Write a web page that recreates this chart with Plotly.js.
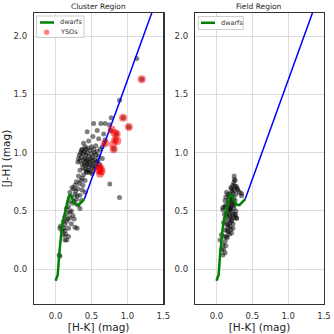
<!DOCTYPE html>
<html>
<head>
<meta charset="utf-8">
<script src="https://cdn.plot.ly/plotly-3.0.1.min.js"></script>
<style>
  html, body { margin: 0; padding: 0; background: #fff; }
  #chart { width: 334px; height: 334px; }
</style>
</head>
<body>
<div id="chart"></div>
<script>
// dwarf locus (shared by both panels)
const dwarfHK = [0.00, 0.03, 0.05, 0.065, 0.085, 0.10, 0.12, 0.155, 0.18, 0.20, 0.22, 0.25, 0.28, 0.32, 0.36, 0.40];
const dwarfJH = [-0.10, -0.05, 0.12, 0.25, 0.34, 0.40, 0.45, 0.56, 0.62, 0.64, 0.63, 0.58, 0.555, 0.55, 0.58, 0.60];

// reddening vector from the end of the locus
const redHK = [0.40, 1.45];
const redJH = [0.60, 2.39];

// cluster region sources
const clusterHK = [
  1.13, 0.89, 0.775, 0.53, 0.63, 0.69, 0.75, 0.77, 0.44, 0.58, 0.67, 0.52, 0.60, 0.69, 0.46, 0.39, 0.56, 0.65, 0.37, 0.41, 0.53, 0.62, 0.68, 0.32, 0.65, 0.31,
  0.35, 0.38, 0.40, 0.42, 0.44, 0.46, 0.48, 0.50, 0.52, 0.54, 0.56, 0.58, 0.36, 0.39, 0.41, 0.43, 0.45, 0.47, 0.49, 0.51, 0.53, 0.55, 0.57, 0.34, 0.37, 0.40,
  0.42, 0.44, 0.46, 0.48, 0.50, 0.52, 0.54, 0.38, 0.41, 0.43, 0.45, 0.47, 0.49, 0.60, 0.59, 0.36, 0.45, 0.50, 0.42, 0.33, 0.61, 0.56,
  0.34, 0.39, 0.43, 0.51, 0.37, 0.41, 0.33, 0.38, 0.27, 0.25, 0.31, 0.37, 0.41, 0.20, 0.27, 0.34, 0.22, 0.29, 0.36, 0.19, 0.24, 0.31,
  0.34, 0.18, 0.20, 0.16, 0.24, 0.13, 0.20, 0.155, 0.22, 0.13, 0.11, 0.18, 0.27, 0.13, 0.11, 0.18, 0.13, 0.755, 0.89, 0.06, 0.07, 0.05,
  0.06, 0.155, 0.30, 0.11, 0.29, 0.32, 0.28, 0.23, 0.35, 0.30, 0.26, 0.15, 0.22, 0.17, 0.26, 0.14, 0.09,
  1.20, 0.94, 1.02, 0.81, 0.83, 0.85, 0.61, 0.63, 0.62
];
const clusterJH = [
  1.81, 1.45, 1.30, 1.25, 1.25, 1.25, 1.24, 1.19, 1.18, 1.19, 1.16, 1.14, 1.12, 1.11, 1.10, 1.08, 1.06, 1.05, 1.03, 1.05, 1.03, 1.03, 1.08, 0.95, 0.95, 0.92,
  1.00, 0.99, 1.01, 0.98, 1.00, 0.97, 1.02, 0.99, 0.96, 1.00, 0.98, 1.01, 0.96, 0.94, 0.95, 0.93, 0.94, 0.92, 0.95, 0.93, 0.91, 0.94, 0.92, 0.93, 0.90, 0.91,
  0.89, 0.90, 0.88, 0.90, 0.87, 0.89, 0.86, 0.87, 0.86, 0.84, 0.85, 0.83, 0.84, 0.97, 0.93, 1.02, 1.04, 1.05, 1.03, 0.98, 0.90, 0.88,
  0.85, 0.81, 0.83, 0.82, 0.78, 0.76, 0.735, 0.72, 0.72, 0.69, 0.69, 0.68, 0.66, 0.66, 0.64, 0.635, 0.62, 0.60, 0.59, 0.58, 0.565, 0.55,
  0.52, 0.535, 0.49, 0.48, 0.46, 0.45, 0.44, 0.41, 0.39, 0.38, 0.35, 0.35, 0.36, 0.33, 0.29, 0.28, 0.25, 0.73, 0.615, 0.35, 0.37, 0.12,
  0.11, 0.25, 0.35, 0.41, 0.75, 0.80, 0.67, 0.70, 0.76, 0.63, 0.58, 0.52, 0.50, 0.43, 0.43, 0.30, 0.33,
  1.63, 1.30, 1.22, 1.03, 1.11, 1.16, 0.88, 0.86, 0.83
];

// young stellar objects in the cluster region
const ysoHK = [1.20, 0.94, 1.02, 0.78, 0.82, 0.85, 0.83, 0.86, 0.81, 0.80, 0.69, 0.61, 0.63, 0.60, 0.64, 0.62];
const ysoJH = [1.63, 1.30, 1.22, 1.20, 1.17, 1.16, 1.11, 1.10, 1.03, 1.07, 1.08, 0.88, 0.86, 0.85, 0.84, 0.82];

// field region sources
const fieldHK = [
  0.247, 0.25, 0.26, 0.23, 0.26, 0.28, 0.21, 0.29, 0.30, 0.32, 0.35, 0.35, 0.14, 0.19, 0.23, 0.21, 0.165, 0.12, 0.21, 0.26, 0.17, 0.23, 0.09, 0.12,
  0.19, 0.19, 0.09, 0.21, 0.14, 0.26, 0.26, 0.14, 0.19, 0.12, 0.28, 0.28, 0.21, 0.21, 0.14, 0.16, 0.19, 0.23, 0.12, 0.165, 0.21, 0.07, 0.14, 0.05,
  0.12, 0.09, 0.07, 0.12, 0.09,
  0.18, 0.20, 0.22, 0.18, 0.20, 0.24, 0.17, 0.22, 0.18, 0.24, 0.17, 0.19, 0.23, 0.16, 0.20, 0.18, 0.15, 0.22, 0.25, 0.27, 0.24, 0.16, 0.13,
  0.11, 0.10, 0.25, 0.27, 0.13, 0.20, 0.24, 0.15, 0.11, 0.13, 0.10
];
const fieldJH = [
  0.80, 0.77, 0.76, 0.72, 0.71, 0.71, 0.69, 0.69, 0.68, 0.66, 0.65, 0.63, 0.66, 0.65, 0.65, 0.62, 0.59, 0.59, 0.58, 0.59, 0.56, 0.55, 0.53, 0.535,
  0.52, 0.51, 0.51, 0.49, 0.48, 0.465, 0.47, 0.46, 0.45, 0.435, 0.435, 0.44, 0.43, 0.41, 0.39, 0.38, 0.365, 0.35, 0.335, 0.32, 0.31, 0.295, 0.28, 0.25,
  0.24, 0.21, 0.165, 0.14, 0.12,
  0.62, 0.60, 0.57, 0.54, 0.53, 0.52, 0.50, 0.47, 0.46, 0.44, 0.42, 0.40, 0.39, 0.36, 0.34, 0.30, 0.27, 0.67, 0.68, 0.64, 0.61, 0.64, 0.55,
  0.47, 0.40, 0.55, 0.50, 0.62, 0.70, 0.74, 0.33, 0.28, 0.20, 0.17
];

const font = "DejaVu Sans, sans-serif";
const grid = '#dcdcdc';

function axisX(anchor, domain) {
  return {
    anchor: anchor, domain: domain, range: [-0.3, 1.5],
    tickvals: [0, 0.5, 1, 1.5], ticktext: ['0.0', '0.5', '1.0', '1.5'],
    ticks: '', ticklabelstandoff: 4,
    showgrid: true, gridcolor: grid, zeroline: false,
    showline: true, mirror: true, linecolor: '#333', linewidth: 1.2,
    tickfont: { size: 8.5, color: '#333' },
    title: { text: '[H-K] (mag)', font: { size: 10.5, color: '#222' }, standoff: 3 }
  };
}
function axisY(anchor, title) {
  const ax = {
    anchor: anchor, domain: [0, 1], range: [-0.3, 2.2],
    tickvals: [0, 0.5, 1, 1.5, 2], ticktext: ['0.0', '0.5', '1.0', '1.5', '2.0'],
    ticks: '', ticklabelstandoff: 4,
    showgrid: true, gridcolor: grid, zeroline: false,
    showline: true, mirror: true, linecolor: '#333', linewidth: 1.2,
    tickfont: { size: 8.5, color: '#333' }
  };
  if (title) ax.title = { text: title, font: { size: 10.5, color: '#222' }, standoff: 4 };
  return ax;
}

const traces = [
  { x: clusterHK, y: clusterJH, xaxis: 'x', yaxis: 'y', type: 'scatter', mode: 'markers',
    marker: { color: 'black', size: 5, opacity: 0.5 }, hoverinfo: 'skip' },
  { x: redHK, y: redJH, xaxis: 'x', yaxis: 'y', type: 'scatter', mode: 'lines',
    line: { color: 'blue', width: 1.5 } },
  { x: dwarfHK, y: dwarfJH, xaxis: 'x', yaxis: 'y', type: 'scatter', mode: 'lines', name: 'dwarfs',
    line: { color: 'green', width: 2.5 } },
  { x: ysoHK, y: ysoJH, xaxis: 'x', yaxis: 'y', type: 'scatter', mode: 'markers', name: 'YSOs',
    marker: { color: 'red', size: 8, opacity: 0.5 } },

  { x: fieldHK, y: fieldJH, xaxis: 'x2', yaxis: 'y2', type: 'scatter', mode: 'markers',
    marker: { color: 'black', size: 5, opacity: 0.5 }, hoverinfo: 'skip' },
  { x: redHK, y: redJH, xaxis: 'x2', yaxis: 'y2', type: 'scatter', mode: 'lines',
    line: { color: 'blue', width: 1.5 } },
  { x: dwarfHK, y: dwarfJH, xaxis: 'x2', yaxis: 'y2', type: 'scatter', mode: 'lines', name: 'dwarfs',
    line: { color: 'green', width: 2.5 } }
];

// small matplotlib-style legend boxes (plotly's own legend rows are too tall here)
const legendFont = { family: font, size: 6.5, color: '#333' };
const shapes = [
  { type: 'rect', xref: 'paper', yref: 'paper', x0: 0.0086, x1: 0.1724, y0: 0.9158, y1: 0.9897,
    fillcolor: 'rgba(255,255,255,0.85)', line: { color: '#cccccc', width: 1 }, layer: 'above' },
  { type: 'line', xref: 'paper', yref: 'paper', x0: 0.0207, x1: 0.069, y0: 0.9674, y1: 0.9674,
    line: { color: 'green', width: 2.5 }, layer: 'above' },
  { type: 'circle', xref: 'paper', yref: 'paper', x0: 0.0345, x1: 0.0531, y0: 0.9244, y1: 0.943,
    fillcolor: 'rgba(255,0,0,0.5)', line: { width: 0 }, layer: 'above' },
  { type: 'rect', xref: 'paper', yref: 'paper', x0: 0.5666, x1: 0.7217, y0: 0.9433, y1: 0.9880,
    fillcolor: 'rgba(255,255,255,0.85)', line: { color: '#cccccc', width: 1 }, layer: 'above' },
  { type: 'line', xref: 'paper', yref: 'paper', x0: 0.5759, x1: 0.6241, y0: 0.9663, y1: 0.9663,
    line: { color: 'green', width: 2.5 }, layer: 'above' }
];

const layout = {
  width: 334, height: 334,
  margin: { l: 34, r: 10, t: 13, b: 30 },
  paper_bgcolor: 'white', plot_bgcolor: 'white',
  font: { family: font, color: '#333' },
  showlegend: false,
  xaxis: axisX('y', [0, 0.446]),
  yaxis: axisY('x', '[J-H] (mag)'),
  xaxis2: axisX('y2', [0.555, 1]),
  yaxis2: axisY('x2', null),
  shapes: shapes,
  annotations: [
    { text: 'Cluster Region', xref: 'paper', yref: 'paper', x: 0.223, y: 1, xanchor: 'center', yanchor: 'bottom',
      showarrow: false, yshift: 0, font: { size: 7.5, color: '#222' } },
    { text: 'Field Region', xref: 'paper', yref: 'paper', x: 0.7775, y: 1, xanchor: 'center', yanchor: 'bottom',
      showarrow: false, yshift: 0, font: { size: 7.5, color: '#222' } },
    { text: 'dwarfs', xref: 'paper', yref: 'paper', x: 0.0838, y: 0.9674, xanchor: 'left', yanchor: 'middle',
      showarrow: false, font: legendFont },
    { text: 'YSOs', xref: 'paper', yref: 'paper', x: 0.0838, y: 0.9337, xanchor: 'left', yanchor: 'middle',
      showarrow: false, font: legendFont },
    { text: 'dwarfs', xref: 'paper', yref: 'paper', x: 0.639, y: 0.9663, xanchor: 'left', yanchor: 'middle',
      showarrow: false, font: legendFont }
  ]
};

Plotly.newPlot('chart', traces, layout, { displayModeBar: false, staticPlot: true });
</script>
</body>
</html>
